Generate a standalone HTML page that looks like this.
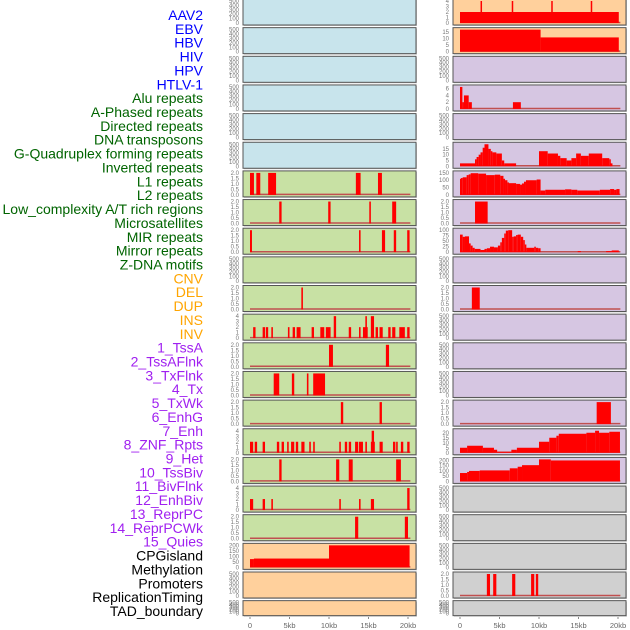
<!DOCTYPE html>
<html><head><meta charset="utf-8"><style>
body{margin:0;background:#fff;width:630px;height:630px;overflow:hidden}
svg{display:block;font-family:"Liberation Sans",sans-serif}
</style></head><body>
<svg id="chart" width="630" height="630" viewBox="0 0 630 630">
<g id="labels" font-size="14" text-anchor="end"></g>
<g id="panels"></g>
<g id="xaxes"></g>
</svg>
<script>
// ---------- labels ----------
const labelNames = ["AAV2","EBV","HBV","HIV","HPV","HTLV-1","Alu repeats","A-Phased repeats","Directed repeats","DNA transposons","G-Quadruplex forming repeats","Inverted repeats","L1 repeats","L2 repeats","Low_complexity A/T rich regions","Microsatellites","MIR repeats","Mirror repeats","Z-DNA motifs","CNV","DEL","DUP","INS","INV","1_TssA","2_TssAFlnk","3_TxFlnk","4_Tx","5_TxWk","6_EnhG","7_Enh","8_ZNF_Rpts","9_Het","10_TssBiv","11_BivFlnk","12_EnhBiv","13_ReprPC","14_ReprPCWk","15_Quies","CPGisland","Methylation","Promoters","ReplicationTiming","TAD_boundary"];
const labelGroups = [6,13,5,15,5];
const groupColors = ["#0000ff","#006400","#ffa500","#a020f0","#000000"];

// ---------- data (kb intervals: [start, end, value]) ----------
const L7 = [[0,0.5,2],[0.8,1.3,2],[2.3,3.3,2],[13.4,14.0,2],[16.2,16.7,2]];
const L8 = [[3.7,4.0,2],[9.9,10.2,2],[15.1,15.3,2],[18.0,18.5,2]];
const L9 = [[0,0.25,2],[13.8,14.0,2],[16.7,17.1,2],[18.2,18.5,2],[19.9,20.2,2]];
const L11 = [[6.5,6.7,2]];
const L12 = [[0.4,0.7,2],[1.6,1.9,2],[2.0,2.3,2],[2.7,2.9,2],[4.8,5.0,2],[5.4,5.7,2],[5.9,6.4,2],[7.8,8.1,2],[8.9,9.4,2],[9.6,10.2,2],[10.6,10.9,4],[12.5,12.8,2],[13.8,14.0,2],[14.3,14.9,2],[14.6,14.8,4],[15.3,15.7,4],[15.9,16.2,2],[16.4,16.8,2],[17.5,17.8,2],[18.0,18.4,2],[18.9,19.6,2],[19.9,20.2,2]];
const L13 = [[10.0,10.5,2],[17.2,17.6,2]];
const L14 = [[3.0,3.7,2],[5.3,5.6,2],[7.2,7.4,2],[8.0,9.5,2]];
const L15 = [[11.5,11.8,2],[16.4,16.7,2]];
const L16 = [[0,0.4,2],[0.6,0.9,2],[1.6,1.9,2],[3.4,3.7,2],[4.0,4.3,2],[4.7,4.9,2],[5.2,5.6,2],[5.8,6.1,2],[6.5,6.9,2],[7.5,7.7,2],[8.0,8.2,2],[11.3,11.5,2],[12.0,12.3,2],[12.5,12.8,2],[13.3,13.7,2],[13.8,14.3,2],[14.6,14.8,2],[15.3,15.8,2],[15.4,15.7,4],[16.4,16.8,2],[18.1,18.4,2],[18.5,18.7,2],[19.1,19.4,2],[19.9,20.2,2]];
const L17 = [[3.7,4.0,2],[10.9,11.3,2],[12.5,13.0,2],[18.5,19.1,2]];
const L18 = [[0,0.4,2],[1.6,1.9,2],[2.7,2.9,2],[11.3,11.5,2],[13.8,14.0,2],[15.3,15.7,2],[19.9,20.2,4]];
const L19 = [[13.3,13.7,2],[19.6,20.0,2]];
const L20 = [[0,0.5,75],[0.5,10.0,80],[10.0,20.2,200]];

const R1 = [[0,20.1,2],[2.6,2.75,4],[6.55,6.7,4],[11.55,11.7,4],[16.55,16.7,4]];
const R2 = [[0,10.2,17],[10.2,20.1,11]];
const R4 = [[0,0.3,6.5],[0.3,0.5,2],[0.5,1.1,4],[1.1,1.5,2],[6.7,7.7,2]];
const R6 = [[0,1.9,2.5],[1.9,2.1,6],[2.1,2.36,8],[2.36,2.6,10],[2.6,2.87,12],[2.87,3.1,16],[3.1,3.6,19],[3.6,3.9,15],[3.9,4.1,13],[4.1,4.6,12],[4.6,5.3,11],[5.3,5.6,5],[5.6,7.1,2.5],[10.0,11.1,13],[11.1,12.4,11],[12.4,12.7,9],[12.7,13.5,7],[13.5,14.1,5],[14.1,14.7,7],[14.7,15.3,11],[15.3,16.3,9],[16.3,18.0,11],[18.0,18.9,7],[18.9,19.0,6],[19.0,19.3,2.5]];
const R7 = [[0,0.13,110],[0.13,0.34,115],[0.34,0.84,120],[0.84,1.1,135],[1.1,1.35,140],[1.35,2.3,148],[2.3,3.3,145],[3.3,4.4,135],[4.4,5.1,138],[5.1,5.5,130],[5.5,5.7,110],[5.7,6.0,100],[6.0,6.2,85],[6.2,7.1,80],[7.1,7.6,75],[7.6,7.85,70],[7.85,8.1,78],[8.1,8.35,90],[8.35,9.7,100],[9.7,10.2,105],[10.2,10.8,30],[10.8,13.3,35],[13.3,14.1,38],[14.1,14.85,35],[14.85,17.7,30],[17.7,19.0,35],[19.0,19.5,40],[19.5,19.8,35],[19.8,20.2,40]];
const R8 = [[1.9,3.5,2]];
const R9 = [[0,0.34,80],[0.34,0.63,70],[0.63,1.14,72],[1.14,1.35,40],[1.35,1.6,30],[1.6,1.86,20],[1.86,2.6,15],[2.6,3.1,10],[3.1,3.4,15],[3.4,3.8,18],[3.8,4.3,25],[4.3,4.8,22],[4.8,5.1,30],[5.1,5.3,45],[5.3,5.6,65],[5.6,5.8,85],[5.8,6.1,98],[6.1,6.6,100],[6.6,6.8,70],[6.8,7.1,72],[7.1,7.3,78],[7.3,7.7,80],[7.7,8.0,70],[8.0,8.2,55],[8.2,8.4,35],[8.4,9.4,20],[9.4,9.6,25],[9.6,9.9,20],[9.9,10.2,18],[14.9,15.3,5],[18.5,19.2,5],[19.2,20.1,8]];
const R11 = [[1.5,2.5,2]];
const R15 = [[17.3,19.1,2]];
const R16 = [[0,0.9,5],[0.9,2.9,7],[2.9,4.3,5],[4.3,4.7,3],[4.7,6.5,1],[6.5,7.2,3],[7.2,10.0,5],[10.0,11.3,11],[11.3,12.2,15],[12.2,12.5,17],[12.5,16.0,19],[16.0,17.1,20],[17.1,17.6,22],[17.6,18.9,20],[18.9,20.25,21]];
const R17 = [[0,0.9,80],[0.9,1.14,90],[1.14,2.5,100],[2.5,6.3,105],[6.3,7.3,125],[7.3,7.85,140],[7.85,10.0,155],[10.0,11.5,210],[11.5,20.25,200]];
const R21 = [[3.4,3.8,2],[4.2,4.6,2],[6.6,7.0,2],[9.0,9.4,2],[9.6,9.9,2]];

// tick label sets
const T500 = ["500","400","300","200","100","0"];
const T2 = ["2.0","1.5","1.0","0.5","0.0"];
const T4 = ["4","3","2","1","0"];
const xTickKb = [0,5,10,15,20];
const xTickLabels = ["0","5kb","10kb","15kb","20kb"];

const C = {b:"#c8e4ec",g:"#c8e1a4",o:"#ffd09c",l:"#d6c6e2",k:"#d0d0d0"};
// [fill, data, ymax, ticks(values), tickLabels]
const leftRows = [
 ["b",null],["b",null],["b",null],["b",null],["b",null],["b",null],
 ["g",L7,2,T2],["g",L8,2,T2],["g",L9,2,T2],["g",null],["g",L11,2,T2],["g",L12,4,T4],
 ["g",L13,2,T2],["g",L14,2,T2],["g",L15,2,T2],["g",L16,4,T4],["g",L17,2,T2],["g",L18,4,T4],["g",L19,2,T2],
 ["o",L20,200,["200","150","100","50","0"]],["o",null],["o",null]];
const rightRows = [
 ["o",R1,4,T4],["o",R2,17,["15","10","5","0"],[15,10,5,0]],["l",null],["l",R4,6.5,["6","4","2","0"],[6,4,2,0]],["l",null],
 ["l",R6,19,["15","10","5","0"],[15,10,5,0]],["l",R7,150,["150","100","50","0"],[150,100,50,0]],["l",R8,2,T2],["l",R9,100,["100","75","50","25","0"]],
 ["l",null],["l",R11,2,T2],["l",null],["l",null],["l",null],["l",R15,2,T2],
 ["l",R16,22,["20","15","10","5","0"],[20,15,10,5,0]],["l",R17,210,["200","150","100","50","0"],[200,150,100,50,0]],
 ["k",null],["k",null],["k",null],["k",R21,2,T2],["k",null]];

const NS="http://www.w3.org/2000/svg";
function mk(tag,attrs,parent){const e=document.createElementNS(NS,tag);for(const k in attrs)e.setAttribute(k,attrs[k]);parent.appendChild(e);return e;}

// labels
const lg=document.getElementById("labels");
let idx=0;
labelGroups.forEach((n,gi)=>{for(let j=0;j<n;j++){const t=mk("text",{x:203,y:15+idx*13.86+5,fill:groupColors[gi]},lg);t.textContent=labelNames[idx];


idx++;}});

const pg=document.getElementById("panels");
function rowTop(i){return -1+i*28.65;}
function rowH(i){return i===21?15:26;}
function drawPanel(row,i,x0,side){
 const [fc,data,ymax,ticks,tv]=row;
 const top=rowTop(i),h=rowH(i),w=173;
 const g=mk("g",{},pg);
 
 
 mk("rect",{x:x0+1,y:top+1,width:w,height:h,fill:"#999",opacity:0.5},g);
 mk("rect",{x:x0,y:top,width:w,height:h,fill:C[fc],stroke:"#555","stroke-width":1},g);
 const xs=kb=>x0+7+kb*7.9;
 const y0=top+h-2,yt=top+2;
 const tg=mk("g",{"font-size":6,fill:"#777","text-anchor":"end"},g);
 if(!data){
  T500.forEach((s,k)=>{const y=yt+(y0-yt)*(k/5);const t=mk("text",{x:x0-4,y:y+2},tg);t.textContent=s;});
  return;
 }
 const ys=v=>y0-(Math.min(v,ymax)/ymax)*(y0-yt);
 ticks.forEach((s,k)=>{const v=tv?tv[k]:ymax*(1-k/(ticks.length-1));const t=mk("text",{x:x0-4,y:ys(v)+2},tg);t.textContent=s;});
 mk("line",{x1:xs(0),x2:xs(20.3),y1:y0-0.5,y2:y0-0.5,stroke:"#c05050","stroke-width":1.5},g);
 data.forEach(d=>{
  const r=mk("rect",{x:xs(d[0]),y:ys(d[2]),width:Math.max(xs(d[1])-xs(d[0]),1.5),height:y0-ys(d[2]),fill:"#ff0000"},g);
  
  
 });
}
leftRows.forEach((r,i)=>drawPanel(r,i,243,'left'));
rightRows.forEach((r,i)=>drawPanel(r,i,453,'right'));

const xg=document.getElementById("xaxes");
[243,453].forEach(x0=>{xTickKb.forEach((kb,k)=>{const x=x0+7+kb*7.9;
 mk("line",{x1:x,x2:x,y1:617,y2:619,stroke:"#888"},xg);
 const t=mk("text",{x:x,y:628,"font-size":7.5,fill:"#666","text-anchor":"middle"},xg);t.textContent=xTickLabels[k];
 
 
});});
</script>
</body></html>
